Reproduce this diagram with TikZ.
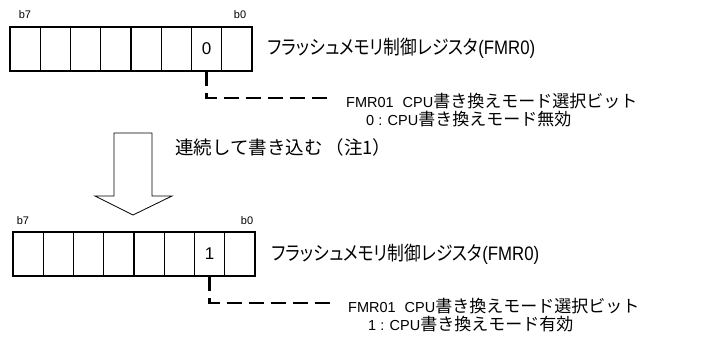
\documentclass[tikz,border=0pt]{standalone}
\usepackage{fontspec}
\usepackage{graphicx}
\setmainfont{Liberation Sans}
\newfontfamily\jp[RawFeature=+palt]{Noto Sans CJK JP}
\newfontfamily\jpf{Noto Sans CJK JP}
\newcommand\latn[1]{{\rmfamily\fontsize{14.5}{14.5}\selectfont #1}}
\newcommand\regname{\scalebox{0.86}[1]{{\jp フラッシュメモリ制御レジスタ}(FMR0)}}
\begin{document}
\begin{tikzpicture}[x=1pt,y=-1pt,
  cell/.style={draw, line width=1.3pt, minimum width=30.25pt, minimum height=44pt, inner sep=0pt, outer sep=0pt, font=\fontsize{17}{17}\selectfont},
  bitlbl/.style={font=\fontsize{11}{11}\selectfont, inner sep=0pt},
  regtitle/.style={anchor=west, inner sep=0pt, font=\fontsize{19.5}{19.5}\selectfont},
  note/.style={anchor=west, inner sep=0pt, font=\fontsize{17}{17}\selectfont\jpf},
  midnote/.style={note, font=\fontsize{18.5}{18.5}\selectfont\jpf},
  lead/.style={line width=2.5pt, dash pattern=on 15pt off 7pt},
  bigarrow/.style={draw, line width=0.8pt, fill=white}]
\useasboundingbox (0,0) rectangle (708,344);
% top register
\foreach \b/\v in {7/{},6/{},5/{},4/{},3/{},2/{},1/0,0/{}}
  \node[cell] (ta\b) at ({10+30.25*(7-\b+0.5)},49) {\v};
\node[bitlbl] (ta7l) at (25,15) {b7};
\node[bitlbl] (ta0l) at (240,15) {b0};
\node[regtitle] (tatitle) at (268,48) {\regname};
\node[note] (tan1) at (346,101) {\latn{FMR01\hspace{9pt}CPU}書き換えモード選択ビット};
\node[note] (tan2) at (366,119) {\latn{0 : CPU}書き換えモード無効};
\coordinate (tae) at (328,98);
\draw[lead] (ta1.south) |- (tae);
% arrow
\path[bigarrow] (114,133) -- (152,133) -- (152,196) -- (172,196) -- (133,215) -- (95,196) -- (114,196) -- cycle;
\node[midnote] (mid) at (175,147) {連続して書き込む\hspace{3pt}（注1）};
% bottom register
\foreach \b/\v in {7/{},6/{},5/{},4/{},3/{},2/{},1/1,0/{}}
  \node[cell] (tb\b) at ({13+30.25*(7-\b+0.5)},254) {\v};
\node[bitlbl] (tb7l) at (23,221) {b7};
\node[bitlbl] (tb0l) at (247,221) {b0};
\node[regtitle] (tbtitle) at (272,254) {\regname};
\node[note] (tbn1) at (348,306) {\latn{FMR01\hspace{9pt}CPU}書き換えモード選択ビット};
\node[note] (tbn2) at (368,324) {\latn{1 : CPU}書き換えモード有効};
\coordinate (tbe) at (330,303);
\draw[lead] (tb1.south) |- (tbe);
\end{tikzpicture}
\end{document}
